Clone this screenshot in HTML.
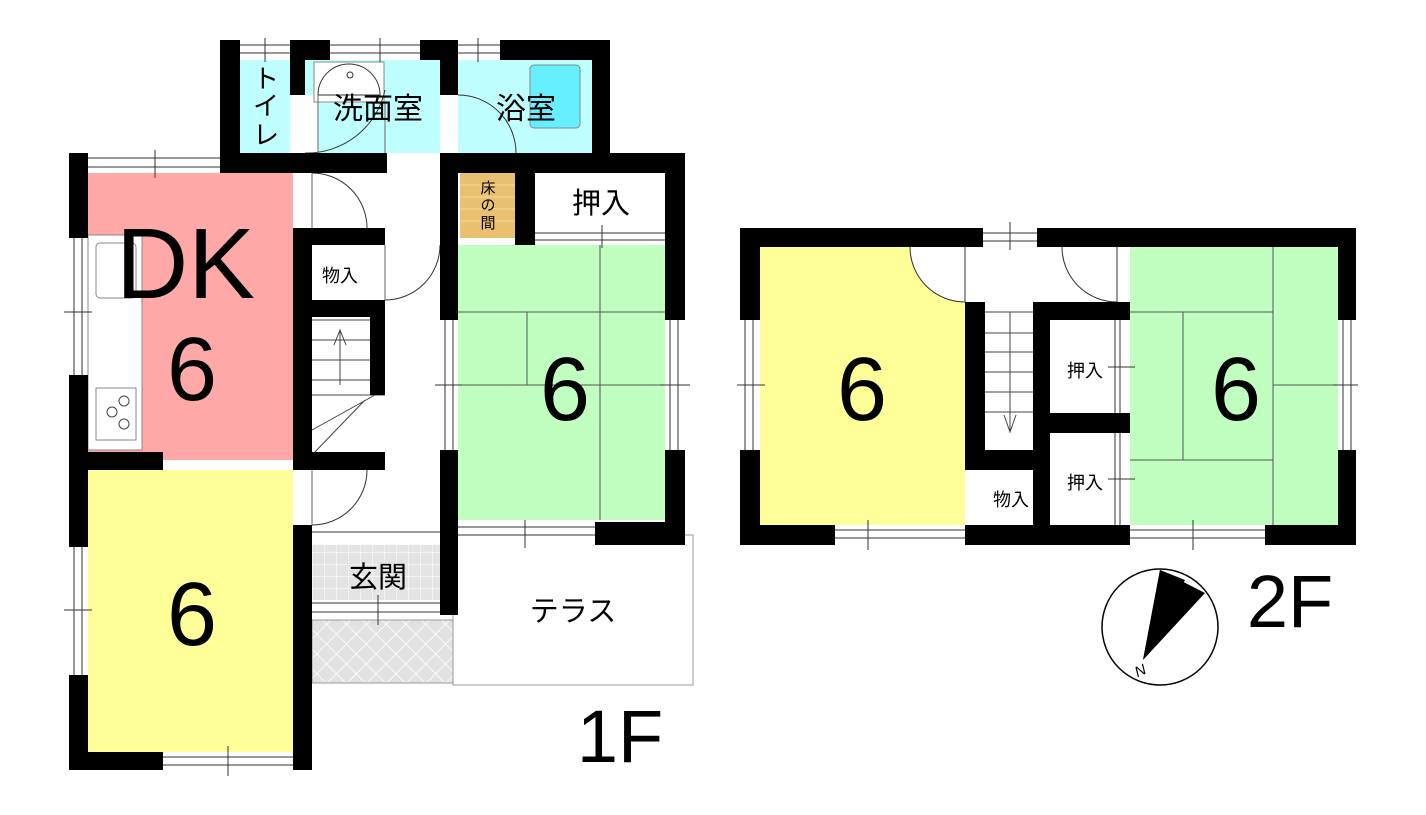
<!DOCTYPE html>
<html><head><meta charset="utf-8"><style>
html,body{margin:0;padding:0;background:#fff;}
svg text{font-family:"Liberation Sans","Noto Sans CJK JP",sans-serif;}
</style></head><body>
<svg width="1426" height="810" viewBox="0 0 1426 810" xmlns="http://www.w3.org/2000/svg">
<defs>
<pattern id="lat" width="14" height="14" patternUnits="userSpaceOnUse" patternTransform="rotate(45)">
<rect width="14" height="14" fill="#e2e2e2"/><path d="M0 0H14M0 0V14" stroke="#fff" stroke-width="1.5"/></pattern>
<pattern id="tile" width="12" height="12" patternUnits="userSpaceOnUse">
<rect width="12" height="12" fill="#e4e4e4"/><path d="M0 0H12M0 0V12" stroke="#fff" stroke-width="1"/></pattern>
</defs>
<!-- ===== 1F fills ===== -->
<rect x="240" y="60" width="50" height="93" fill="#c0ffff"/>
<rect x="305" y="60" width="135" height="93" fill="#c0ffff"/>
<rect x="305" y="95" width="13" height="58" fill="#fff"/>
<rect x="314" y="62" width="70" height="40" fill="#fff" stroke="#888" stroke-width="1"/>
<path d="M318 95A30 30 0 0 1 380 95Z" fill="#fff" stroke="#333"/>
<rect x="458" y="60" width="134" height="93" fill="#c0ffff"/>
<rect x="530" y="65" width="50" height="63" rx="4" fill="#66f0ff" stroke="#888" stroke-width="1"/>
<rect x="88" y="173" width="205" height="287" fill="#ffa8a8"/>
<rect x="88" y="235" width="54" height="215" fill="#fff" stroke="#888" stroke-width="1"/>
<rect x="96" y="243" width="40" height="55" rx="4" fill="#fff" stroke="#888"/>
<rect x="96" y="388" width="40" height="52" fill="#fff" stroke="#888"/>
<circle cx="112" cy="412" r="5" fill="none" stroke="#444"/><circle cx="124" cy="401" r="5" fill="none" stroke="#444"/><circle cx="124" cy="424" r="5" fill="none" stroke="#444"/>
<rect x="88" y="470" width="205" height="282" fill="#ffff99"/>
<rect x="460" y="173" width="55" height="65" fill="#e8c070"/>
<path d="M460 185H515M460 197H515M460 209H515M460 221H515" stroke="#f5d898" stroke-width="1"/>
<rect x="458" y="245" width="207" height="275" fill="#c0ffc0"/>
<path d="M458 312H665M527 312V385M458 385H665M600 245V520M600 385H665" stroke="#555" stroke-width="1" fill="none"/>
<rect x="312" y="545" width="128" height="55" fill="url(#tile)"/>
<rect x="453" y="535" width="240" height="150" fill="#fff" stroke="#999" stroke-width="1"/>
<rect x="312" y="620" width="141" height="63" fill="url(#lat)" stroke="#999"/>
<!-- stairs 1F -->
<path d="M312 320H370M312 340H370M312 360H370M312 380H370M312 395H385M312 430L375 395M312 455L365 400M340 330V385M334 345L340 330L346 345" stroke="#444" stroke-width="1" fill="none"/>
<!-- door arcs 1F -->
<path d="M305 153A80 80 0 0 0 385 90M458 95A58 58 0 0 1 516 153M312 173A55 55 0 0 1 367 228M385 300A55 55 0 0 0 440 245M312 525A55 55 0 0 0 367 470" stroke="#333" fill="none"/>
<path d="M318 95V153M385 102V153M312 173V228M385 245V300M312 470V525" stroke="#666" fill="none"/>
<circle cx="350" cy="75" r="3" fill="none" stroke="#333"/>
<!-- ===== 1F walls ===== -->
<g fill="#000">
<rect x="220" y="40" width="20" height="133"/>
<rect x="290" y="40" width="40" height="20"/><rect x="290" y="40" width="15" height="55"/>
<rect x="420" y="40" width="38" height="20"/><rect x="440" y="40" width="18" height="55"/>
<rect x="500" y="40" width="110" height="20"/><rect x="592" y="40" width="18" height="133"/>
<rect x="220" y="153" width="167" height="20"/>
<rect x="440" y="153" width="245" height="20"/>
<rect x="69" y="153" width="19" height="85"/>
<rect x="69" y="375" width="19" height="172"/>
<rect x="69" y="675" width="19" height="95"/>
<rect x="69" y="752" width="94" height="18"/>
<rect x="88" y="452" width="75" height="18"/>
<rect x="293" y="228" width="19" height="242"/>
<rect x="293" y="228" width="92" height="17"/>
<rect x="293" y="300" width="92" height="17"/>
<rect x="370" y="300" width="15" height="95"/>
<rect x="293" y="452" width="92" height="18"/>
<rect x="293" y="525" width="19" height="245"/>
<rect x="440" y="153" width="18" height="167"/>
<rect x="440" y="450" width="18" height="165"/>
<rect x="515" y="173" width="20" height="72"/>
<rect x="665" y="153" width="20" height="167"/>
<rect x="665" y="450" width="20" height="95"/>
<rect x="595" y="522" width="90" height="23"/>
</g>
<!-- windows 1F -->
<g stroke="#333" stroke-width="1" fill="none">
<path d="M88 158H220M88 167H220M155 150V178"/>
<path d="M240 45H290M240 53H290M265 38V62"/>
<path d="M330 45H420M330 53H420M380 38V62"/>
<path d="M458 45H500M458 53H500M478 38V62"/>
<path d="M74 238V375M82 238V375M64 312H92"/>
<path d="M74 547V675M82 547V675M64 610H92"/>
<path d="M163 757H293M163 765H293M228 746V776"/>
<path d="M445 320V450M453 320V450M435 385H462"/>
<path d="M670 320V450M678 320V450M660 385H690"/>
<path d="M458 527H595M458 535H595M525 520V548"/>
<path d="M312 603H440M312 612H440M378 595V625"/>
<path d="M535 233H665M535 240H665M602 225V248"/>
<path d="M312 532H440"/>
</g>
<!-- 1F labels -->
<text x="116" y="298" font-size="100">DK</text>
<text x="192" y="400" font-size="90" text-anchor="middle">6</text>
<text x="192" y="645" font-size="90" text-anchor="middle">6</text>
<text x="565" y="420" font-size="90" text-anchor="middle">6</text>
<text x="378" y="119" font-size="30" text-anchor="middle">洗面室</text>
<text x="526" y="119" font-size="30" text-anchor="middle">浴室</text>
<text x="266" y="88" font-size="26" text-anchor="middle">ト</text>
<text x="266" y="115" font-size="26" text-anchor="middle">イ</text>
<text x="266" y="144" font-size="26" text-anchor="middle">レ</text>
<text x="488" y="193" font-size="15" text-anchor="middle">床</text>
<text x="488" y="210" font-size="15" text-anchor="middle">の</text>
<text x="488" y="228" font-size="15" text-anchor="middle">間</text>
<text x="601" y="213" font-size="29" text-anchor="middle">押入</text>
<text x="340" y="282" font-size="18" text-anchor="middle">物入</text>
<text x="378" y="587" font-size="29" text-anchor="middle">玄関</text>
<text x="573" y="621" font-size="29" text-anchor="middle">テラス</text>
<text x="620" y="762" font-size="74" text-anchor="middle">1F</text>

<!-- ===== 2F ===== -->
<rect x="760" y="247" width="205" height="278" fill="#ffff99"/>
<path d="M910 247A55 55 0 0 0 965 302V247Z" fill="#fff"/>
<rect x="1130" y="247" width="208" height="278" fill="#c0ffc0"/>
<path d="M1130 312H1273M1183 312V460M1130 460H1273M1273 247V525M1273 385H1338" stroke="#555" fill="none"/>
<path d="M985 312H1035M985 333H1035M985 352H1035M985 372H1035M985 392H1035M985 412H1035M1010 312V432M1004 415L1010 432L1016 415" stroke="#444" fill="none"/>
<path d="M910 247A55 55 0 0 0 965 302M1117 302A55 55 0 0 1 1062 247M965 247V302M1117 247V302M1115 320V413M1120 320V413M1115 433V525M1120 433V525" stroke="#333" fill="none"/>
<path d="M968 415V465" stroke="#666" stroke-dasharray="2 2" stroke-width="2"/>
<g fill="#000">
<rect x="740" y="228" width="243" height="19"/>
<rect x="1037" y="228" width="319" height="19"/>
<rect x="740" y="228" width="20" height="92"/>
<rect x="740" y="450" width="20" height="95"/>
<rect x="1338" y="228" width="18" height="92"/>
<rect x="1338" y="450" width="18" height="95"/>
<rect x="740" y="525" width="95" height="20"/>
<rect x="965" y="525" width="165" height="20"/>
<rect x="1265" y="525" width="91" height="20"/>
<rect x="965" y="302" width="20" height="163"/>
<rect x="965" y="450" width="75" height="20"/>
<rect x="1033" y="302" width="17" height="223"/>
<rect x="1033" y="302" width="97" height="18"/>
<rect x="1033" y="413" width="97" height="20"/>
</g>
<g stroke="#333" fill="none">
<path d="M983 233H1037M983 241H1037M1010 222V250"/>
<path d="M745 320V450M753 320V450M737 385H765"/>
<path d="M1343 320V450M1351 320V450M1333 385H1358"/>
<path d="M835 530H965M835 538H965M868 520V550"/>
<path d="M1130 530H1265M1130 538H1265M1193 520V550"/>
<path d="M1108 367H1135M1108 479H1135"/>
</g>
<text x="862" y="420" font-size="90" text-anchor="middle">6</text>
<text x="1236" y="420" font-size="90" text-anchor="middle">6</text>
<text x="1085" y="377" font-size="18" text-anchor="middle">押入</text>
<text x="1085" y="489" font-size="18" text-anchor="middle">押入</text>
<text x="1011" y="506" font-size="18" text-anchor="middle">物入</text>
<!-- compass -->
<circle cx="1160" cy="627" r="58" fill="#fff" stroke="#000" stroke-width="1.5"/>
<path d="M1160 570L1205 593L1143 660Z" fill="#000"/>
<path d="M1160 570L1185 580L1143 660Z" fill="#000"/>
<text x="1135" y="678" font-size="15" font-family="Liberation Serif" font-style="italic" transform="rotate(-25 1135 672)">N</text>
<text x="1290" y="627" font-size="74" text-anchor="middle">2F</text>
</svg>
</body></html>
